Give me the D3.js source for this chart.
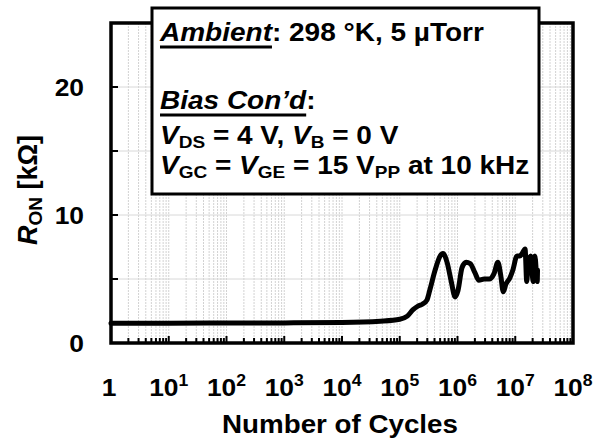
<!DOCTYPE html>
<html>
<head>
<meta charset="utf-8">
<script src="https://cdn.jsdelivr.net/npm/d3@7"></script>
<style>
  html, body { margin: 0; padding: 0; background: #fff; }
  svg { display: block; }
  text { font-family: "Liberation Sans", Arial, Helvetica, sans-serif; font-weight: bold; fill: #000; }
</style>
</head>
<body>
<svg id="chart" width="593" height="446"></svg>
<script>
// On-resistance (kΩ) measured against accumulated switching cycles
const cycles = [
  1, 10, 100, 1e3, 1e4, 4.6e4, 1.0e5, 1.35e5, 1.7e5, 2.1e5, 2.5e5, 2.95e5,
  3.3e5, 4.1e5, 5.0e5, 5.6e5, 6.6e5, 7.8e5, 9.1e5, 1.02e6, 1.2e6, 1.41e6,
  1.66e6, 2.0e6, 2.34e6, 2.9e6, 3.55e6, 4.27e6, 5.0e6, 5.6e6, 6.2e6, 6.9e6,
  8.1e6, 9.1e6, 1.07e7, 1.2e7, 1.32e7, 1.48e7, 1.58e7, 1.66e7, 1.86e7,
  2.04e7, 2.19e7, 2.4e7, 2.43e7
];
const ronKOhm = [
  1.55, 1.55, 1.56, 1.57, 1.6, 1.7, 1.85, 2.1, 2.6, 2.9, 3.05, 3.35,
  4.1, 5.7, 6.8, 7.0, 6.3, 4.8, 3.6, 4.1, 5.9, 6.3,
  6.2, 5.5, 4.9, 5.0, 5.0, 5.4, 6.3, 5.3, 4.0, 4.6,
  5.1, 5.7, 6.8, 6.8, 7.0, 7.35, 4.8, 6.0, 6.8,
  4.8, 6.8, 4.8, 5.7
];

// Axis ticks and labels
const xDecades = [1, 1e1, 1e2, 1e3, 1e4, 1e5, 1e6, 1e7, 1e8];
const xDecadeExponents = ["", "1", "2", "3", "4", "5", "6", "7", "8"];
const yTicks = [0, 5, 10, 15, 20];
const yTickLabels = ["0", "", "10", "", "20"];
const yGrid = [5, 10, 15, 20];

const svg = d3.select("#chart");
const plotL = 111, plotR = 573, plotT = 23, plotB = 343;

const x = d3.scaleLog().domain([1, 1e8]).range([plotL, plotR]);
const y = d3.scaleLinear().domain([0, 25]).range([plotB, plotT]);

// minor positions 2..9 within each decade
const minor = [];
for (let k = 0; k < 8; k++) for (let m = 2; m <= 9; m++) minor.push(m * Math.pow(10, k));

// grid
const grid = svg.append("g");
grid.selectAll("line.v").data(minor.concat(xDecades.slice(1, -1))).join("line")
  .attr("x1", d => x(d)).attr("x2", d => x(d))
  .attr("y1", plotT).attr("y2", plotB)
  .attr("stroke", "#d2d2d2").attr("stroke-width", 1)
  .attr("stroke-dasharray", "2,1");
grid.selectAll("line.h").data(yGrid).join("line")
  .attr("x1", plotL).attr("x2", plotR)
  .attr("y1", d => y(d)).attr("y2", d => y(d))
  .attr("stroke", "#d8d8d8").attr("stroke-width", 1);

// data curve
const pts = cycles.map((c, i) => [c, ronKOhm[i]]);
const line = d3.line().x(d => x(d[0])).y(d => y(d[1])).curve(d3.curveMonotoneX);
svg.append("path")
  .datum(pts)
  .attr("fill", "none")
  .attr("stroke", "#000")
  .attr("stroke-width", 5)
  .attr("stroke-linejoin", "round")
  .attr("stroke-linecap", "round")
  .attr("d", line);

// inward ticks
const ticks = svg.append("g").attr("stroke", "#000").attr("stroke-width", 2);
ticks.selectAll("line.mn").data(minor).join("line")
  .attr("x1", d => x(d)).attr("x2", d => x(d))
  .attr("y1", plotB).attr("y2", plotB - 5);
ticks.selectAll("line.mj").data(xDecades.slice(1, -1)).join("line")
  .attr("x1", d => x(d)).attr("x2", d => x(d))
  .attr("y1", plotB).attr("y2", plotB - 7);
ticks.selectAll("line.yt").data(yTicks.slice(1)).join("line")
  .attr("x1", plotL).attr("x2", plotL + 7)
  .attr("y1", d => y(d)).attr("y2", d => y(d));

// frame
svg.append("rect")
  .attr("x", plotL).attr("y", plotT)
  .attr("width", plotR - plotL).attr("height", plotB - plotT)
  .attr("fill", "none").attr("stroke", "#000").attr("stroke-width", 3.5);

// text helper: horizontally widened bold text
function wideText(px, py, sx, anchor) {
  return svg.append("g")
    .attr("transform", `translate(${px},${py}) scale(${sx},1)`)
    .append("text").attr("text-anchor", anchor || "start");
}

// y tick labels
yTicks.forEach((v, i) => {
  if (!yTickLabels[i]) return;
  wideText(84, y(v) + 8.5, 1.1, "end").attr("font-size", 24).text(yTickLabels[i]);
});

// x tick labels
xDecades.forEach((v, i) => {
  const t = wideText(x(v) - (i === 0 ? 2 : 0), 396, 1.1, "middle").attr("font-size", 24);
  if (i === 0) { t.text("1"); return; }
  t.append("tspan").text("10");
  t.append("tspan").attr("font-size", 16).attr("dy", -10).text(xDecadeExponents[i]);
});

// axis titles
wideText((plotL + plotR) / 2 - 2, 433, 1.11, "middle").attr("font-size", 25).text("Number of Cycles");

const yt = svg.append("g").attr("transform", "translate(37,190) rotate(-90)")
  .append("text").attr("text-anchor", "middle").attr("font-size", 27);
yt.append("tspan").attr("font-style", "italic").text("R");
yt.append("tspan").attr("font-size", 19).attr("dy", 5).text("ON");
yt.append("tspan").attr("dy", -5).text(" [kΩ]");

// annotation box
svg.append("rect")
  .attr("x", 152).attr("y", 8).attr("width", 387).attr("height", 186)
  .attr("fill", "#fff").attr("stroke", "#000").attr("stroke-width", 3);

function boxLine(py, parts) {
  const g = svg.append("g").attr("transform", `translate(160,${py}) scale(1.12,1)`);
  const t = g.append("text").attr("font-size", 25);
  let shifted = false;
  parts.forEach(p => {
    const s = t.append("tspan").text(p.t);
    if (p.i) s.attr("font-style", "italic");
    if (p.sub) {
      s.attr("font-size", 17);
      if (!shifted) { s.attr("dy", 4); shifted = true; }
    } else if (shifted) {
      s.attr("dy", -4); shifted = false;
    }
    if (p.u) {
      const w = s.node().getComputedTextLength();
      g.append("rect").attr("x", 0).attr("y", 4.5).attr("width", w).attr("height", 3).attr("fill", "#000");
    }
  });
}

boxLine(41, [{ t: "Ambient", i: 1, u: 1 }, { t: ": 298 °K, 5 µTorr" }]);
boxLine(109, [{ t: "Bias Con’d", i: 1, u: 1 }, { t: ":" }]);
boxLine(144, [{ t: "V", i: 1 }, { t: "DS", sub: 1 }, { t: " = 4 V, " },
              { t: "V", i: 1 }, { t: "B", sub: 1 }, { t: " = 0 V" }]);
boxLine(174, [{ t: "V", i: 1 }, { t: "GC", sub: 1 }, { t: " = " },
              { t: "V", i: 1 }, { t: "GE", sub: 1 }, { t: " = 15 V" },
              { t: "PP", sub: 1 }, { t: " at 10 kHz" }]);
</script>
</body>
</html>
